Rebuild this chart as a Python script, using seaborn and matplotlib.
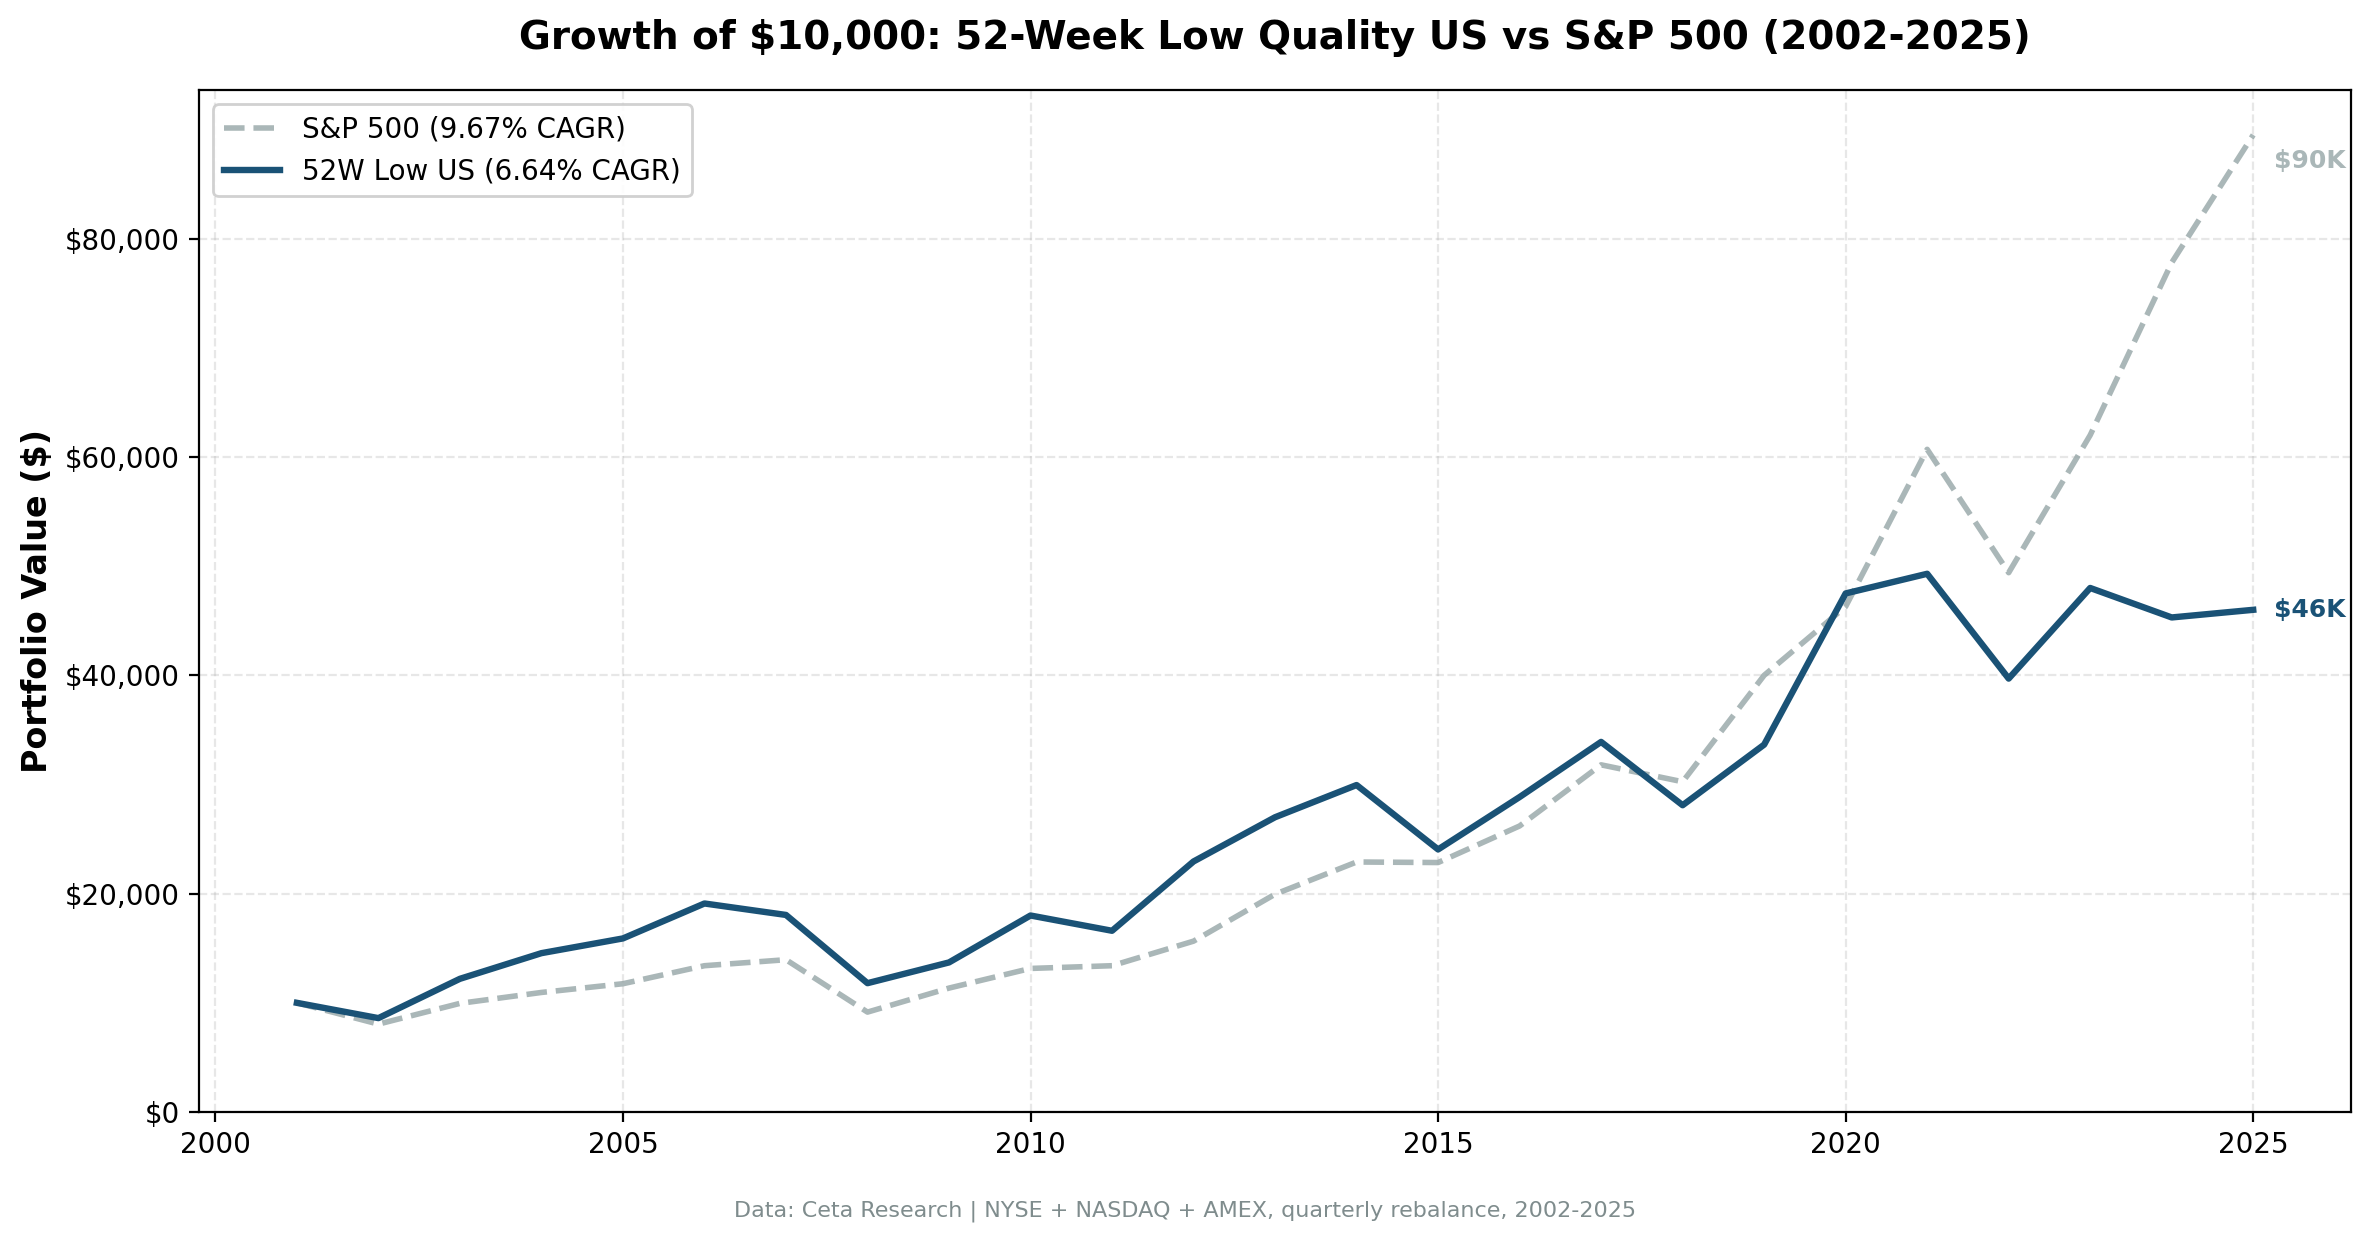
import matplotlib
matplotlib.use("Agg")
import matplotlib.pyplot as plt
import matplotlib.ticker as mticker
import seaborn as sns
import pandas as pd

years = list(range(2001, 2026))
low52_values = [10000, 8600, 12200, 14550, 15900, 19100, 18050, 11800, 13700, 18000,
                16600, 22950, 27000, 29950, 24050, 28850, 33900, 28100, 33650, 47500,
                49300, 39700, 48000, 45300, 46000]
spx_values = [10000, 8050, 9950, 10950, 11750, 13400, 13950, 9150, 11350, 13150,
              13400, 15650, 19950, 22900, 22850, 26200, 31800, 30250, 40000, 46300,
              60700, 49400, 62000, 77800, 89500]
spx_label = "S&P 500 (9.67% CAGR)"
low52_label = "52W Low US (6.64% CAGR)"

spx_color = "#95a5a6"
low52_color = "#1a5276"

df = pd.DataFrame({"year": years, "spx": spx_values, "low52": low52_values})

fig, ax = plt.subplots(figsize=(11.85, 6.195), dpi=200)
fig.subplots_adjust(left=0.084, right=0.992, top=0.927, bottom=0.1025)

sns.lineplot(data=df, x="year", y="spx", ax=ax, color=spx_color, alpha=0.8,
             linewidth=2, linestyle="--", label=spx_label)
sns.lineplot(data=df, x="year", y="low52", ax=ax, color=low52_color,
             linewidth=2.3, label=low52_label)

ax.set_ylim(bottom=0)
ax.yaxis.set_major_formatter(mticker.FuncFormatter(lambda v, p: f"${v:,.0f}"))
ax.grid(True, linestyle="--", alpha=0.3)
ax.set_xlabel("")
ax.set_ylabel("Portfolio Value ($)", fontsize=12, fontweight="bold")
ax.tick_params(labelsize=10)
ax.set_title("Growth of $10,000: 52-Week Low Quality US vs S&P 500 (2002-2025)",
             fontsize=14, fontweight="bold", pad=15)

# end labels
ax.annotate(f"${spx_values[-1] / 1000:.0f}K", xy=(years[-1], spx_values[-1]),
            xytext=(7.5, -9.5), textcoords="offset points", va="center",
            fontsize=9, fontweight="bold", color=spx_color, alpha=0.8)
ax.annotate(f"${low52_values[-1] / 1000:.0f}K", xy=(years[-1], low52_values[-1]),
            xytext=(7.5, 0), textcoords="offset points", va="center",
            fontsize=9, fontweight="bold", color=low52_color)

ax.legend(loc="upper left", fontsize=10, framealpha=0.9)

fig.text(0.5, 0.018, "Data: Ceta Research | NYSE + NASDAQ + AMEX, quarterly rebalance, 2002-2025",
         ha="center", fontsize=8, color="#7f8c8d")

fig.savefig("out.png", dpi=200)
